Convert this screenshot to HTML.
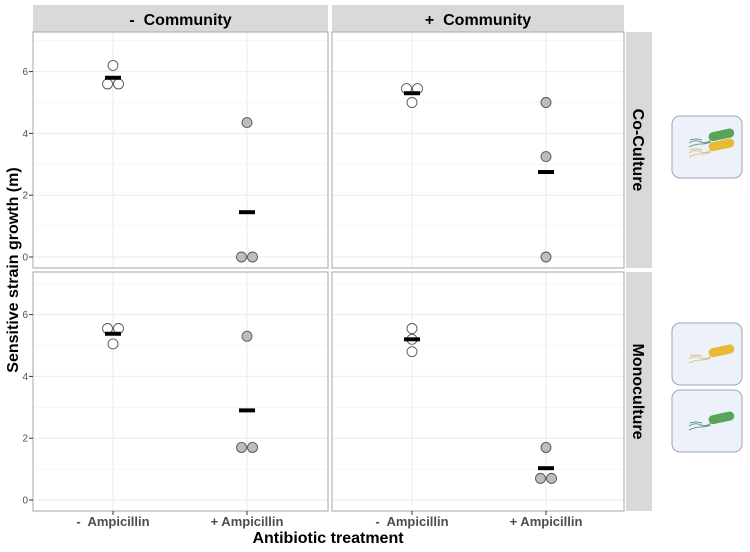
<!DOCTYPE html>
<html><head><meta charset="utf-8"><style>
body{margin:0;background:#fff;font-family:"Liberation Sans",sans-serif}
svg text{font-family:"Liberation Sans",sans-serif;white-space:pre}
</style></head><body>
<svg id="c" width="750" height="547" xmlns="http://www.w3.org/2000/svg"></svg>
<script>
const colLabels=["-  Community","+  Community"];
const rowLabels=["Co-Culture","Monoculture"];
const xCats=["-  Ampicillin","+ Ampicillin"];
const yTicks=[0,2,4,6];
const ptsTL=[[6.2,5.6,5.6],[4.35,0,0]];
const ptsTR=[[5.45,5.45,5.0],[5.0,3.25,0]];
const ptsBL=[[5.55,5.55,5.05],[5.3,1.7,1.7]];
const ptsBR=[[5.55,5.2,4.8],[1.7,0.7,0.7]];
const meansTL=[5.8,1.45];
const meansTR=[5.3,2.75];
const meansBL=[5.38,2.9];
const meansBR=[5.2,1.03];
const panels=[[ptsTL,meansTL],[ptsTR,meansTR],[ptsBL,meansBL],[ptsBR,meansBR]];
const svg=document.getElementById('c');const NS="http://www.w3.org/2000/svg";
function mk(t,a,p){const e=document.createElementNS(NS,t);for(const k in a)e.setAttribute(k,a[k]);(p||svg).appendChild(e);return e;}
const px=[[33,328],[332,624]], py=[[32,268],[272,511]];
const zeroY=[257,500], unit=30.9;
function yS(r,v){return zeroY[r]-v*unit;}
function xS(c,i){return px[c][0]+80+i*134;}
colLabels.forEach((l,c)=>{
 let s=mk('rect',{x:px[c][0],y:5,width:px[c][1]-px[c][0],height:27,fill:'#d9d9d9'});
 
 let t=mk('text',{x:(px[c][0]+px[c][1])/2,y:25,'text-anchor':'middle','font-size':16,'font-weight':'bold'});t.textContent=l;
 
});
rowLabels.forEach((l,r)=>{
 let s=mk('rect',{x:626,y:py[r][0],width:26,height:py[r][1]-py[r][0],fill:'#d9d9d9'});
 
 const cy=(py[r][0]+py[r][1])/2;
 let t=mk('text',{x:633,y:cy,'text-anchor':'middle','font-size':16,'font-weight':'bold',transform:`rotate(90 633 ${cy})`});t.textContent=l;
 
});
panels.forEach((p,k)=>{
 const r=Math.floor(k/2),c=k%2;
 const g=mk('g',{});
 mk('rect',{x:px[c][0],y:py[r][0],width:px[c][1]-px[c][0],height:py[r][1]-py[r][0],fill:'#fff'},g);
 for(let v=0;v<=7;v+=1){const y=yS(r,v);if(y<py[r][0])continue;mk('line',{x1:px[c][0],x2:px[c][1],y1:y,y2:y,stroke:v%2?'#f2f2f2':'#ebebeb','stroke-width':v%2?0.6:1},g);}
 xCats.forEach((_,i)=>mk('line',{x1:xS(c,i),x2:xS(c,i),y1:py[r][0],y2:py[r][1],stroke:'#ebebeb'},g));
 mk('rect',{x:px[c][0],y:py[r][0],width:px[c][1]-px[c][0],height:py[r][1]-py[r][0],fill:'none',stroke:'#b3b3b3','stroke-width':1.2},g);
 p[0].forEach((vals,i)=>{
  const x0=xS(c,i);
  vals.forEach((v,j)=>{
   const same=vals.filter(w=>Math.abs(w-v)<0.05);
   let off=0;if(same.length>1){const idx=vals.slice(0,j).filter(w=>Math.abs(w-v)<0.05).length;off=idx===0?-5.5:5.5;}
   const e=mk('circle',{cx:x0+off,cy:yS(r,v),r:5,fill:i?'#bdbdbd':'#fff',stroke:'#555','stroke-width':0.9},g);
   
  });
  const m=mk('rect',{x:x0-8,y:yS(r,p[1][i])-2,width:16,height:4,fill:'#000'},g);
  
 });
 if(c===0) yTicks.forEach(v=>{const t=mk('text',{x:28,y:yS(r,v)+3.5,'text-anchor':'end','font-size':10,fill:'#4d4d4d'});t.textContent=v;
  
  mk('line',{x1:29,x2:33,y1:yS(r,v),y2:yS(r,v),stroke:'#333'});});
 if(r===1) xCats.forEach((l,i)=>{mk('line',{x1:xS(c,i),x2:xS(c,i),y1:511,y2:515,stroke:'#333'});
  const t=mk('text',{x:xS(c,i),y:526,'text-anchor':'middle','font-size':13,'font-weight':'bold',fill:'#4d4d4d'});t.textContent=l;
  });
});
let t=mk('text',{x:328,y:543,'text-anchor':'middle','font-size':16,'font-weight':'bold'});t.textContent='Antibiotic treatment';

t=mk('text',{x:18,y:270,'text-anchor':'middle','font-size':16,'font-weight':'bold',transform:'rotate(-90 18 270)'});t.textContent='Sensitive strain growth (m)';

function bug(g,x,y,col,fl){mk('path',{d:`M${x-20} ${y+4} q6 -4 12 -1 q5 2 10 -2 M${x-20} ${y+8} q6 -3 12 -3 q5 0 10 -2 M${x-19} ${y+1} q6 -2 12 0`,stroke:fl,fill:'none','stroke-width':1},g);
 mk('rect',{x:x,y:y-6,width:26,height:9,rx:4.5,fill:col,transform:`rotate(-12 ${x} ${y})`},g);}
[[672,116,[['#5aa45a',0],['#e8b931',10]]],[672,323,[['#e8b931',3]]],[672,390,[['#5aa45a',3]]]].forEach(([x,y,bs])=>{
 const g=mk('g',{});
 mk('rect',{x:x,y:y,width:70,height:62,rx:8,fill:'#edf2fa',stroke:'#9aa5b8'},g);
 bs.forEach(([col,dy],i)=>bug(g,x+37,y+26+dy+(bs.length>1?-3:3),col,col==='#5aa45a'?'#6a9a88':'#d8c48a'));
});
</script>
</body></html>
